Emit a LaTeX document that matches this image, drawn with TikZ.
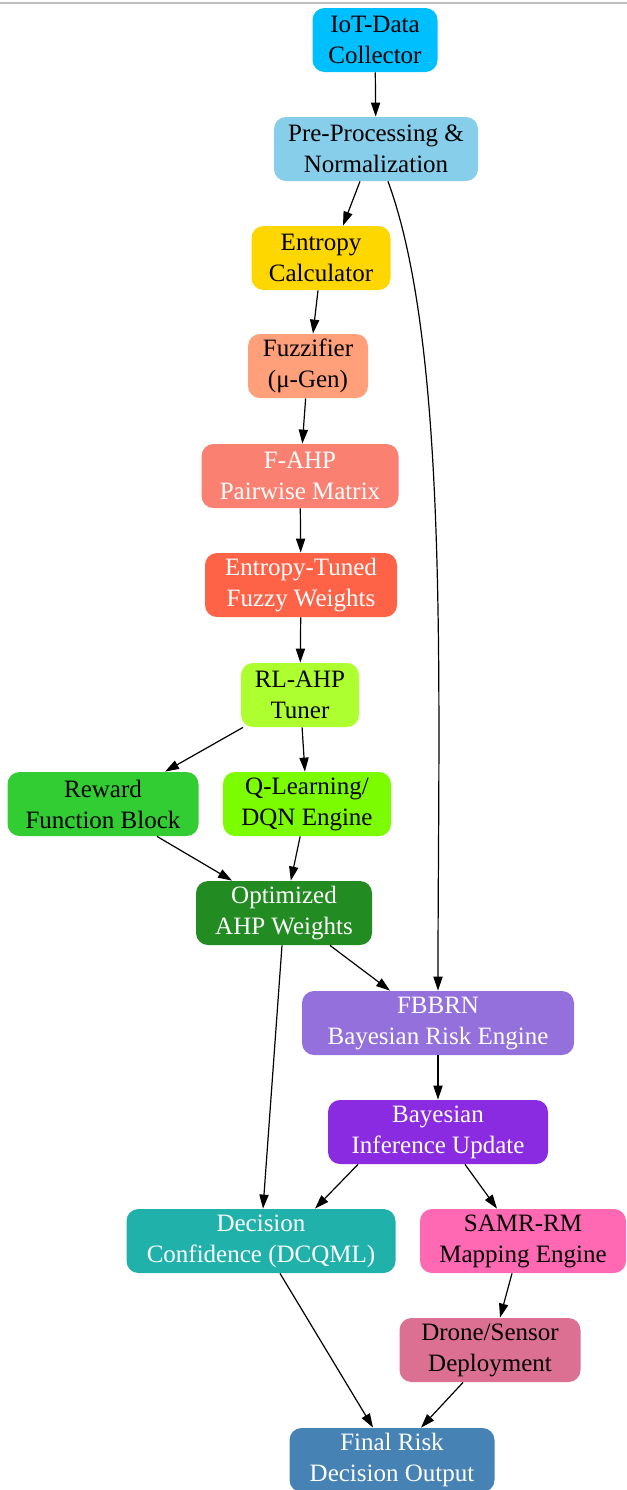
\documentclass[tikz,border=0pt]{standalone}
\usepackage{fontspec}
\setmainfont{Liberation Serif}
\usetikzlibrary{arrows.meta,calc}

\definecolor{cIot}{RGB}{0,191,255}
\definecolor{cPre}{RGB}{135,206,235}
\definecolor{cEnt}{RGB}{255,215,0}
\definecolor{cFuzz}{RGB}{255,160,122}
\definecolor{cFahp}{RGB}{250,128,114}
\definecolor{cEtw}{RGB}{255,99,71}
\definecolor{cRl}{RGB}{173,255,47}
\definecolor{cRew}{RGB}{50,205,50}
\definecolor{cQ}{RGB}{124,252,0}
\definecolor{cOpt}{RGB}{34,139,34}
\definecolor{cFbb}{RGB}{147,112,219}
\definecolor{cBay}{RGB}{138,43,226}
\definecolor{cDec}{RGB}{32,178,170}
\definecolor{cSamr}{RGB}{255,105,180}
\definecolor{cDrone}{RGB}{219,112,147}
\definecolor{cFinal}{RGB}{70,130,180}

\begin{document}
\begin{tikzpicture}
		[
		x=0.5pt, y=-0.5pt, font=\fontsize{12.5}{15.5}\selectfont,
		%Kasten und Pfeile
		box/.style={rounded corners=6pt, minimum height=32pt, inner sep=0pt, align=center},
		pfeil/.style={-{Triangle[length=7pt,width=4.6pt]}, line width=0.6pt}
		]
		
		%Rahmen
		\useasboundingbox (0,0) rectangle (627,1490);
		\draw [black!25, line width=1pt] (0,3) -- (627,3);
		
		%Kaesten
		\node [box, fill=cIot, minimum width=62.5pt] (iot) at (375,40) {IoT-Data\\Collector};
		\node [box, fill=cPre, minimum width=102pt] (pre) at (376,149) {Pre-Processing \&\\Normalization};
		\node [box, fill=cEnt, minimum width=69.5pt] (ent) at (321,258) {Entropy\\Calculator};
		\node [box, fill=cFuzz, minimum width=60pt] (fuzz) at (308,366) {Fuzzifier\\(μ-Gen)};
		\node [box, fill=cFahp, text=white, minimum width=98.5pt] (fahp) at (300,476) {F-AHP\\Pairwise Matrix};
		\node [box, fill=cEtw, text=white, minimum width=96pt] (etw) at (301,585) {Entropy-Tuned\\Fuzzy Weights};
		\node [box, fill=cRl, minimum width=59pt] (rl) at (300,695) {RL-AHP\\Tuner};
		\node [box, fill=cRew, minimum width=95.5pt] (rew) at (103,804) {Reward\\Function Block};
		\node [box, fill=cQ, minimum width=84pt] (ql) at (307,804) {Q-Learning/\\DQN Engine};
		\node [box, fill=cOpt, text=white, minimum width=88pt] (opt) at (284,913) {Optimized\\AHP Weights};
		\node [box, fill=cFbb, text=white, minimum width=136pt] (fbb) at (438,1023) {FBBRN\\Bayesian Risk Engine};
		\node [box, fill=cBay, text=white, minimum width=110pt] (bay) at (438,1132) {Bayesian\\Inference Update};
		\node [box, fill=cDec, text=white, minimum width=134.5pt] (dec) at (261,1241) {Decision\\Confidence (DCQML)};
		\node [box, fill=cSamr, minimum width=103pt] (samr) at (523,1241) {SAMR-RM\\Mapping Engine};
		\node [box, fill=cDrone, minimum width=90.5pt] (drone) at (490,1350) {Drone/Sensor\\Deployment};
		\node [box, fill=cFinal, text=white, minimum width=102.5pt] (fin) at (392,1460) {Final Risk\\Decision Output};
		
		%gerade Pfeile
		\foreach \a/\b in {iot/pre, fuzz/fahp, fahp/etw, etw/rl, rl/ql, ql/opt, fbb/bay}
		\draw [pfeil] (\a) -- (\b);
		
		%schraege Pfeile
		\draw [pfeil] ($(pre.south)+(-16,0)$) -- ($(ent.north)+(22,0)$);
		\draw [pfeil] ($(ent.south)+(-3,0)$) -- ($(fuzz.north)+(5,0)$);
		\draw [pfeil] ($(rl.south)+(-57,0)$) -- ($(rew.north)+(62,0)$);
		\draw [pfeil] ($(rew.south)+(54,0)$) -- ($(opt.north)+(-52,0)$);
		\draw [pfeil] ($(opt.south)+(46,0)$) -- ($(fbb.north)+(-48,0)$);
		\draw [pfeil] ($(opt.south)+(-2,0)$) -- ($(dec.north)+(2,0)$);
		\draw [pfeil] ($(bay.south)+(-80,0)$) -- ($(dec.north)+(54,0)$);
		\draw [pfeil] ($(bay.south)+(27,0)$) -- ($(samr.north)+(-26,0)$);
		\draw [pfeil] ($(samr.south)+(-11,0)$) -- ($(drone.north)+(10,0)$);
		\draw [pfeil] ($(dec.south)+(19,0)$) -- ($(fin.north)+(-19,0)$);
		\draw [pfeil] ($(drone.south)+(-27,0)$) -- ($(fin.north)+(29,0)$);
		
		%Bogen zum Risiko-Block
		\draw [pfeil] ($(pre.south)+(12,0)$) .. controls (450,350) and (438,700) .. (fbb.north);
	\end{tikzpicture}
\end{document}
